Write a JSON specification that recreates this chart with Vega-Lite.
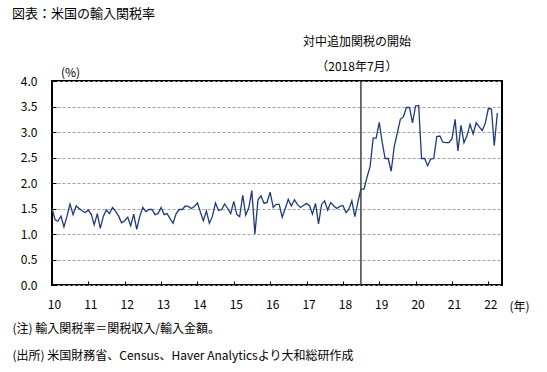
{
  "$schema": "https://vega.github.io/schema/vega-lite/v6.json",
  "width": 450,
  "height": 204,
  "autosize": {"type": "none"},
  "padding": {"left": 52, "top": 81, "right": 45, "bottom": 87},
  "background": "white",
  "config": {
    "font": "Noto Sans CJK JP",
    "view": {"stroke": "#000000", "strokeWidth": 2},
    "axis": {"labelColor": "#000000", "titleColor": "#000000", "labelFontSize": 12, "titleFontSize": 12, "titleFontWeight": "normal", "tickColor": "#000000", "labelOverlap": false}
  },
  "title": {"text": "図表：米国の輸入関税率", "anchor": "start", "frame": "group", "dx": -40, "offset": 15, "fontSize": 13, "fontWeight": "normal", "color": "#000000"},
  "datasets": {
    "tariff": [
      {"date": "2010-01-01", "v": 1.50}, {"date": "2010-02-01", "v": 1.28}, {"date": "2010-03-01", "v": 1.25}, {"date": "2010-04-01", "v": 1.35}, {"date": "2010-05-01", "v": 1.14}, {"date": "2010-06-01", "v": 1.35}, {"date": "2010-07-01", "v": 1.59}, {"date": "2010-08-01", "v": 1.38}, {"date": "2010-09-01", "v": 1.55}, {"date": "2010-10-01", "v": 1.50}, {"date": "2010-11-01", "v": 1.45}, {"date": "2010-12-01", "v": 1.42},
      {"date": "2011-01-01", "v": 1.47}, {"date": "2011-02-01", "v": 1.38}, {"date": "2011-03-01", "v": 1.18}, {"date": "2011-04-01", "v": 1.40}, {"date": "2011-05-01", "v": 1.11}, {"date": "2011-06-01", "v": 1.35}, {"date": "2011-07-01", "v": 1.47}, {"date": "2011-08-01", "v": 1.40}, {"date": "2011-09-01", "v": 1.52}, {"date": "2011-10-01", "v": 1.45}, {"date": "2011-11-01", "v": 1.35}, {"date": "2011-12-01", "v": 1.22},
      {"date": "2012-01-01", "v": 1.26}, {"date": "2012-02-01", "v": 1.33}, {"date": "2012-03-01", "v": 1.16}, {"date": "2012-04-01", "v": 1.39}, {"date": "2012-05-01", "v": 1.09}, {"date": "2012-06-01", "v": 1.35}, {"date": "2012-07-01", "v": 1.52}, {"date": "2012-08-01", "v": 1.44}, {"date": "2012-09-01", "v": 1.48}, {"date": "2012-10-01", "v": 1.48}, {"date": "2012-11-01", "v": 1.38}, {"date": "2012-12-01", "v": 1.40},
      {"date": "2013-01-01", "v": 1.52}, {"date": "2013-02-01", "v": 1.38}, {"date": "2013-03-01", "v": 1.40}, {"date": "2013-04-01", "v": 1.30}, {"date": "2013-05-01", "v": 1.21}, {"date": "2013-06-01", "v": 1.40}, {"date": "2013-07-01", "v": 1.48}, {"date": "2013-08-01", "v": 1.48}, {"date": "2013-09-01", "v": 1.55}, {"date": "2013-10-01", "v": 1.54}, {"date": "2013-11-01", "v": 1.50}, {"date": "2013-12-01", "v": 1.54},
      {"date": "2014-01-01", "v": 1.61}, {"date": "2014-02-01", "v": 1.42}, {"date": "2014-03-01", "v": 1.26}, {"date": "2014-04-01", "v": 1.45}, {"date": "2014-05-01", "v": 1.21}, {"date": "2014-06-01", "v": 1.35}, {"date": "2014-07-01", "v": 1.61}, {"date": "2014-08-01", "v": 1.46}, {"date": "2014-09-01", "v": 1.48}, {"date": "2014-10-01", "v": 1.59}, {"date": "2014-11-01", "v": 1.50}, {"date": "2014-12-01", "v": 1.40},
      {"date": "2015-01-01", "v": 1.64}, {"date": "2015-02-01", "v": 1.38}, {"date": "2015-03-01", "v": 1.34}, {"date": "2015-04-01", "v": 1.76}, {"date": "2015-05-01", "v": 1.37}, {"date": "2015-06-01", "v": 1.52}, {"date": "2015-07-01", "v": 1.85}, {"date": "2015-08-01", "v": 1.00}, {"date": "2015-09-01", "v": 1.67}, {"date": "2015-10-01", "v": 1.75}, {"date": "2015-11-01", "v": 1.60}, {"date": "2015-12-01", "v": 1.62},
      {"date": "2016-01-01", "v": 1.82}, {"date": "2016-02-01", "v": 1.52}, {"date": "2016-03-01", "v": 1.58}, {"date": "2016-04-01", "v": 1.58}, {"date": "2016-05-01", "v": 1.33}, {"date": "2016-06-01", "v": 1.50}, {"date": "2016-07-01", "v": 1.68}, {"date": "2016-08-01", "v": 1.55}, {"date": "2016-09-01", "v": 1.67}, {"date": "2016-10-01", "v": 1.58}, {"date": "2016-11-01", "v": 1.52}, {"date": "2016-12-01", "v": 1.56},
      {"date": "2017-01-01", "v": 1.60}, {"date": "2017-02-01", "v": 1.55}, {"date": "2017-03-01", "v": 1.39}, {"date": "2017-04-01", "v": 1.60}, {"date": "2017-05-01", "v": 1.20}, {"date": "2017-06-01", "v": 1.58}, {"date": "2017-07-01", "v": 1.65}, {"date": "2017-08-01", "v": 1.47}, {"date": "2017-09-01", "v": 1.62}, {"date": "2017-10-01", "v": 1.55}, {"date": "2017-11-01", "v": 1.50}, {"date": "2017-12-01", "v": 1.54},
      {"date": "2018-01-01", "v": 1.56}, {"date": "2018-02-01", "v": 1.42}, {"date": "2018-03-01", "v": 1.48}, {"date": "2018-04-01", "v": 1.65}, {"date": "2018-05-01", "v": 1.34}, {"date": "2018-06-01", "v": 1.63}, {"date": "2018-07-01", "v": 1.88}, {"date": "2018-08-01", "v": 1.88}, {"date": "2018-09-01", "v": 2.12}, {"date": "2018-10-01", "v": 2.32}, {"date": "2018-11-01", "v": 2.88}, {"date": "2018-12-01", "v": 2.88},
      {"date": "2019-01-01", "v": 3.19}, {"date": "2019-02-01", "v": 2.78}, {"date": "2019-03-01", "v": 2.48}, {"date": "2019-04-01", "v": 2.48}, {"date": "2019-05-01", "v": 2.23}, {"date": "2019-06-01", "v": 2.72}, {"date": "2019-07-01", "v": 2.98}, {"date": "2019-08-01", "v": 3.25}, {"date": "2019-09-01", "v": 3.30}, {"date": "2019-10-01", "v": 3.48}, {"date": "2019-11-01", "v": 3.48}, {"date": "2019-12-01", "v": 3.18},
      {"date": "2020-01-01", "v": 3.51}, {"date": "2020-02-01", "v": 3.52}, {"date": "2020-03-01", "v": 2.48}, {"date": "2020-04-01", "v": 2.48}, {"date": "2020-05-01", "v": 2.34}, {"date": "2020-06-01", "v": 2.47}, {"date": "2020-07-01", "v": 2.48}, {"date": "2020-08-01", "v": 2.91}, {"date": "2020-09-01", "v": 2.92}, {"date": "2020-10-01", "v": 2.80}, {"date": "2020-11-01", "v": 2.79}, {"date": "2020-12-01", "v": 2.79},
      {"date": "2021-01-01", "v": 2.87}, {"date": "2021-02-01", "v": 3.25}, {"date": "2021-03-01", "v": 2.63}, {"date": "2021-04-01", "v": 3.13}, {"date": "2021-05-01", "v": 2.79}, {"date": "2021-06-01", "v": 2.93}, {"date": "2021-07-01", "v": 3.15}, {"date": "2021-08-01", "v": 2.96}, {"date": "2021-09-01", "v": 3.18}, {"date": "2021-10-01", "v": 3.10}, {"date": "2021-11-01", "v": 3.03}, {"date": "2021-12-01", "v": 3.17},
      {"date": "2022-01-01", "v": 3.46}, {"date": "2022-02-01", "v": 3.45}, {"date": "2022-03-01", "v": 2.73}, {"date": "2022-04-01", "v": 3.37}
    ]
  },
  "layer": [
    {
      "data": {"name": "tariff"},
      "mark": {"type": "line", "color": "#1f3a7a", "strokeWidth": 1.3},
      "encoding": {
        "x": {
          "field": "date", "type": "temporal",
          "scale": {"type": "utc", "domain": [{"year": 2010, "month": 1, "date": 1, "utc": true}, {"year": 2022, "month": 5, "date": 18, "utc": true}]},
          "axis": {
            "values": [
              {"year": 2010, "month": 1, "date": 1, "utc": true}, {"year": 2011, "month": 1, "date": 1, "utc": true}, {"year": 2012, "month": 1, "date": 1, "utc": true}, {"year": 2013, "month": 1, "date": 1, "utc": true}, {"year": 2014, "month": 1, "date": 1, "utc": true}, {"year": 2015, "month": 1, "date": 1, "utc": true}, {"year": 2016, "month": 1, "date": 1, "utc": true}, {"year": 2017, "month": 1, "date": 1, "utc": true}, {"year": 2018, "month": 1, "date": 1, "utc": true}, {"year": 2019, "month": 1, "date": 1, "utc": true}, {"year": 2020, "month": 1, "date": 1, "utc": true}, {"year": 2021, "month": 1, "date": 1, "utc": true}, {"year": 2022, "month": 1, "date": 1, "utc": true}
            ],
            "tickCount": 40,
            "labelExpr": "utcFormat(datum.value, '%y')",
            "labelOverlap": false, "labelFlush": false, "labelBound": false,
            "grid": false, "domain": false, "tickSize": -4, "labelPadding": 18, "labelAlign": "center", "labelOffset": 2,
            "title": ["(注) 輸入関税率＝関税収入/輸入金額。", "(出所) 米国財務省、Census、Haver Analyticsより大和総研作成"],
            "titleAnchor": "start", "titleAlign": "left", "titleX": -40, "titleY": 38, "titleBaseline": "top", "titleLineHeight": 27
          }
        },
        "y": {
          "field": "v", "type": "quantitative",
          "scale": {"domain": [0, 4]},
          "axis": {
            "values": [0, 0.5, 1, 1.5, 2, 2.5, 3, 3.5, 4],
            "tickCount": 40,
            "labelOverlap": false, "labelFlush": false, "labelBound": false,
            "format": ".1f", "grid": true, "gridDash": [3, 2], "gridColor": "#a0a0a0", "gridWidth": 1,
            "domain": false, "tickSize": -4, "labelPadding": 19,
            "title": "(%)", "titleAngle": 0, "titleX": 18, "titleY": -9, "titleAlign": "center", "titleBaseline": "middle"
          }
        }
      }
    },
    {
      "data": {"values": [{"event": "対中追加関税の開始", "d": "2018-07-01"}]},
      "mark": {"type": "rule", "color": "#404040", "strokeWidth": 1.5},
      "encoding": {"x": {"field": "d", "type": "temporal", "scale": {"type": "utc"}}}
    },
    {
      "data": {"values": [{"label": "対中追加関税の開始"}]},
      "mark": {"type": "text", "fontSize": 12, "color": "#000000", "dx": -4, "baseline": "middle", "clip": false},
      "encoding": {
        "x": {"datum": {"year": 2018, "month": 7, "date": 1, "utc": true}, "type": "temporal", "scale": {"type": "utc"}},
        "y": {"datum": 4.76},
        "text": {"field": "label"}
      }
    },
    {
      "data": {"values": [{"label": "（2018年7月）"}]},
      "mark": {"type": "text", "fontSize": 12, "color": "#000000", "dx": -4, "baseline": "middle", "clip": false},
      "encoding": {
        "x": {"datum": {"year": 2018, "month": 7, "date": 1, "utc": true}, "type": "temporal", "scale": {"type": "utc"}},
        "y": {"datum": 4.27},
        "text": {"field": "label"}
      }
    },
    {
      "data": {"values": [{"label": "(年)"}]},
      "mark": {"type": "text", "fontSize": 12, "color": "#000000", "baseline": "middle", "clip": false},
      "encoding": {
        "x": {"datum": {"year": 2022, "month": 11, "date": 10, "utc": true}, "type": "temporal", "scale": {"type": "utc"}},
        "y": {"datum": -0.43},
        "text": {"field": "label"}
      }
    }
  ]
}
